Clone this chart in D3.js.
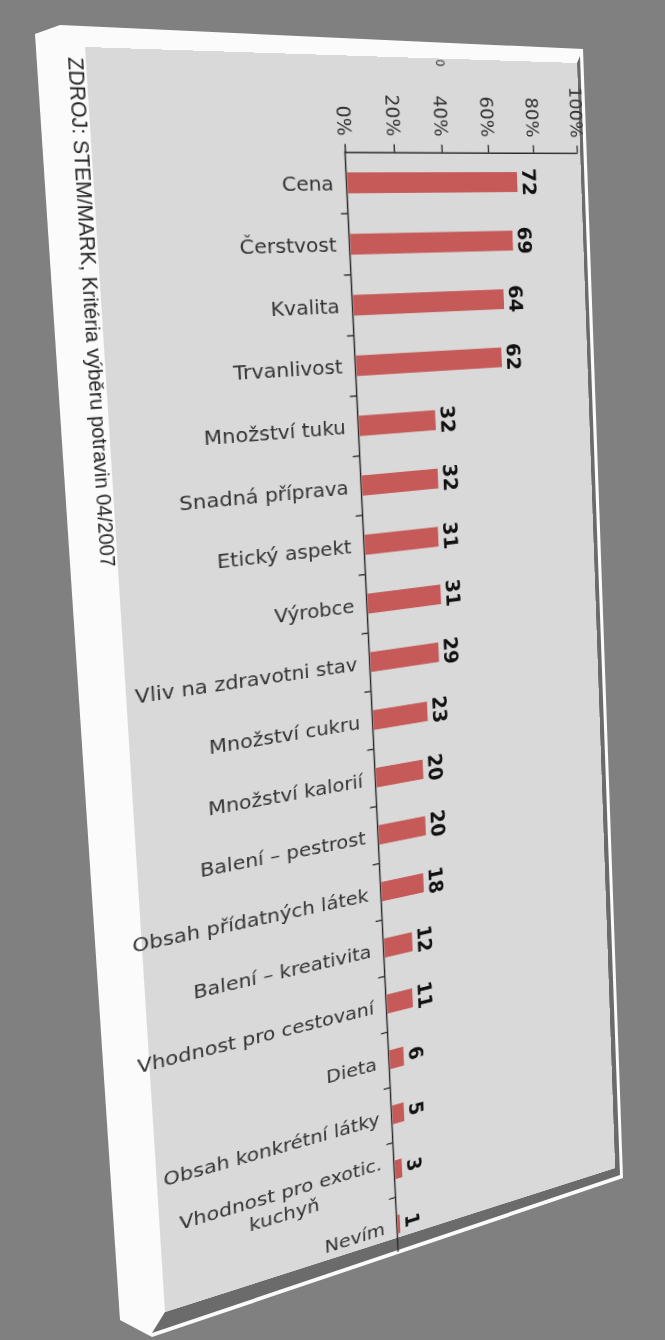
<!DOCTYPE html>
<html><head><meta charset="utf-8">
<script src="https://cdn.jsdelivr.net/npm/d3@7"></script>
<style>
html,body{margin:0;padding:0;background:#808080;width:665px;height:1340px;overflow:hidden}
#bg{position:absolute;left:0;top:0}
#face{position:absolute;left:0;top:0;transform-origin:0 0;}
#face svg{display:block;overflow:visible}
</style></head>
<body>
<svg id="bg" width="665" height="1340"></svg>
<div id="face"></div>
<script>
// ---------------- data ----------------
const categories = ["Cena","Čerstvost","Kvalita","Trvanlivost","Množství tuku","Snadná příprava",
  "Etický aspekt","Výrobce","Vliv na zdravotni stav","Množství cukru","Množství kalorií",
  "Balení – pestrost","Obsah přídatných látek","Balení – kreativita","Vhodnost pro cestovaní",
  "Dieta","Obsah konkrétní látky","Vhodnost pro exotic. kuchyň","Nevím"];
const values = [72,69,64,62,32,32,31,31,29,23,20,20,18,12,11,6,5,3,1];
const tickValues = [0,20,40,60,80,100];
const sourceText = "ZDROJ: STEM/MARK, Kritéria výběru potravin 04/2007";
const markText = "0";

// ---------------- perspective helpers ----------------
function solve(A,b){
  const n=b.length, M=A.map((r,i)=>[...r,b[i]]);
  for(let c=0;c<n;c++){
    let p=c; for(let r=c+1;r<n;r++) if(Math.abs(M[r][c])>Math.abs(M[p][c])) p=r;
    [M[c],M[p]]=[M[p],M[c]];
    for(let r=0;r<n;r++){ if(r===c) continue; const f=M[r][c]/M[c][c];
      for(let k=c;k<=n;k++) M[r][k]-=f*M[c][k]; }
  }
  return M.map((r,i)=>r[n]/r[i]);
}
function homog(src,dst){
  const A=[],b=[];
  for(let i=0;i<4;i++){ const [x,y]=src[i],[u,v]=dst[i];
    A.push([x,y,1,0,0,0,-u*x,-u*y]); b.push(u);
    A.push([0,0,0,x,y,1,-v*x,-v*y]); b.push(v); }
  return solve(A,b);
}
function apply(h,[x,y]){ const w=h[6]*x+h[7]*y+1; return [(h[0]*x+h[1]*y+h[2])/w,(h[3]*x+h[4]*y+h[5])/w]; }

// ---------------- board (page coords) ----------------
const boardOuter = [[35,34],[60,25],[583,49],[623,1178],[152,1337],[120,1320]];
const boardBevel = [[577,63],[580,56],[620,1175],[152,1333],[165,1312],[615,1168]];
const faceQuad = [[85,47],[577,63],[615,1168],[165,1312]];
const bg = d3.select("#bg");
bg.append("polygon").attr("points",boardOuter.join(" ")).attr("fill","#fbfbfb");
bg.append("polygon").attr("points",boardBevel.join(" ")).attr("fill","#6b6b6b");

// ---------------- flat chart ----------------
const W=492, H=1250, PADL=80;
const src=[[PADL,0],[PADL+W,0],[PADL+W,H],[PADL,H]];
const Hm = homog(src, faceQuad);
const Hi = homog(faceQuad, src);
d3.select("#face").style("transform",
  `matrix3d(${Hm[0]},${Hm[3]},0,${Hm[6]},${Hm[1]},${Hm[4]},0,${Hm[7]},0,0,1,0,${Hm[2]},${Hm[5]},0,1)`);

const O = apply(Hi,[345,152]);   // axis origin
const P = apply(Hi,[577,157]);   // 100 %
const B = apply(Hi,[400,1251]);  // bottom of category axis
const S = apply(Hi,[68,57]);     // source text start
const SE = apply(Hi,[100,568]);  // source text end
const MK = apply(Hi,[436,59]);

const svg = d3.select("#face").append("svg").attr("width",PADL+W).attr("height",H);
svg.append("rect").attr("x",PADL).attr("y",0).attr("width",W).attr("height",H).attr("fill","#d9d9d9");

const x = d3.scaleLinear().domain([0,100]).range([O[0],P[0]]);
const y = d3.scaleBand().domain(categories).range([O[1],B[1]]).paddingInner(0.66).paddingOuter(0.33);

// top axis
const ax = svg.append("g").attr("transform",`translate(0,${O[1]})`)
  .call(d3.axisTop(x).tickValues(tickValues).tickFormat(d=>d+"%").tickSize(8).tickSizeOuter(0));
ax.select(".domain").attr("stroke","#2a2a2a").attr("stroke-width",1.6);
ax.selectAll(".tick line").attr("stroke","#2a2a2a").attr("stroke-width",1.4);
ax.selectAll(".tick text").attr("transform","rotate(90)").attr("x",-16).attr("y",0)
  .attr("dy","0.36em").attr("text-anchor","end")
  .style("font-family","DejaVu Sans").style("font-size","19px").attr("fill","#333");

// category axis
svg.append("line").attr("x1",x(0)).attr("x2",x(0)).attr("y1",O[1]-1).attr("y2",B[1])
  .attr("stroke","#2a2a2a").attr("stroke-width",1.5);
svg.append("g").selectAll("line").data(categories.slice(1)).join("line")
  .attr("x1",x(0)-7).attr("x2",x(0))
  .attr("y1",(d)=>y(d)-y.step()*y.paddingInner()/2).attr("y2",(d)=>y(d)-y.step()*y.paddingInner()/2)
  .attr("stroke","#2a2a2a").attr("stroke-width",1.4);

// bars
svg.append("g").selectAll("rect").data(categories).join("rect")
  .attr("x",x(0)+1).attr("y",d=>y(d)).attr("height",y.bandwidth())
  .attr("width",(d,i)=>x(values[i])-x(0)).attr("fill","#c65a58");

// value labels
svg.append("g").selectAll("text").data(categories).join("text")
  .attr("transform",(d,i)=>`translate(${x(values[i])+7},${y(d)+y.bandwidth()/2}) rotate(90)`)
  .attr("text-anchor","middle").text((d,i)=>values[i])
  .style("font-family","DejaVu Sans").style("font-weight","bold").style("font-size","21px").attr("fill","#111");

// category labels
const lab = svg.append("g").style("font-family","DejaVu Sans").style("font-size","20px").attr("fill","#333");
categories.forEach(c=>{
  const cy = y(c)+y.bandwidth()/2, xr = x(0)-13;
  const lines = c.includes(". ") ? [c.slice(0,c.indexOf(". ")+1), c.slice(c.indexOf(". ")+2)] : [c];
  if(lines.length===1){
    lab.append("text").attr("x",xr).attr("y",cy).attr("dy","0.36em").attr("text-anchor","end").text(c);
  } else {
    const t = lab.append("text").attr("text-anchor","middle");
    const t1 = t.append("tspan").text(lines[0]);
    const w1 = t1.node().getComputedTextLength();
    t1.attr("x",xr-w1/2).attr("y",cy).attr("dy","-0.22em");
    t.append("tspan").text(lines[1]).attr("x",xr-w1/2).attr("y",cy).attr("dy","0.98em");
  }
});

// source text on the left
svg.append("text").attr("transform",`translate(${S[0]},${S[1]}) rotate(90)`)
  .attr("textLength",SE[1]-S[1]).attr("lengthAdjust","spacingAndGlyphs")
  .style("font-family","Liberation Sans Narrow, Liberation Sans").style("font-size","18px").attr("fill","#222")
  .text(sourceText);

// small mark above axis
svg.append("text").attr("transform",`translate(${MK[0]},${MK[1]}) rotate(90)`)
  .attr("text-anchor","start")
  .style("font-family","DejaVu Sans").style("font-size","12px").attr("fill","#333").text(markText);
</script>
</body></html>
